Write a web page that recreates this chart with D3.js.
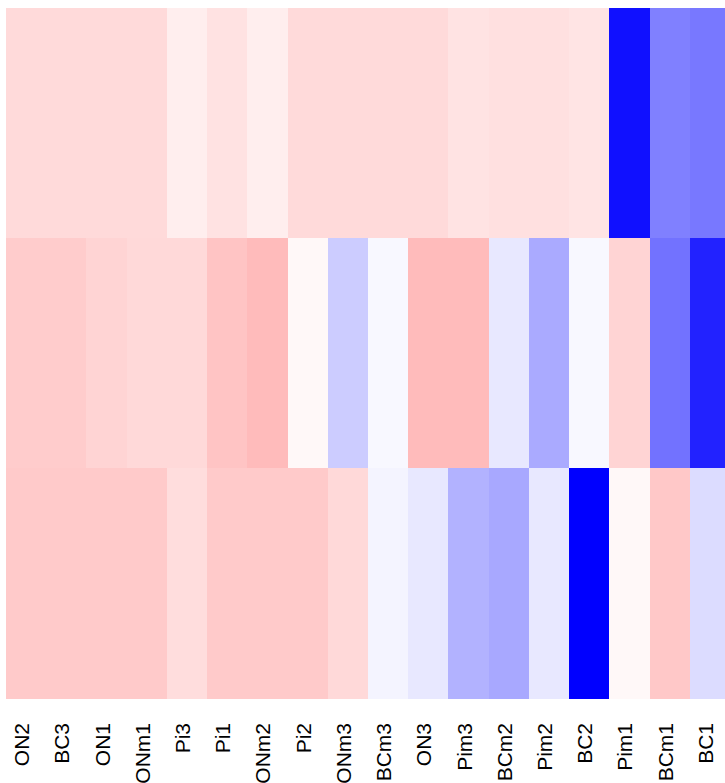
<!DOCTYPE html>
<html>
<head>
<meta charset="utf-8">
<script src="https://cdn.jsdelivr.net/npm/d3@7"></script>
<style>
  html, body { margin: 0; padding: 0; background: #ffffff; overflow: hidden; }
  svg { display: block; }
</style>
</head>
<body>
<svg id="chart" width="725" height="783"></svg>
<script>
// Column labels, left to right
const columns = ["ON2","BC3","ON1","ONm1","Pi3","Pi1","ONm2","Pi2","ONm3","BCm3","ON3","Pim3","BCm2","Pim2","BC2","Pim1","BCm1","BC1"];
// Row identifiers, top to bottom
const rows = ["r1","r2","r3"];

// Cell values per row (negative = blue, positive = red)
const rowTop    = [0.145, 0.145, 0.145, 0.145, 0.067, 0.114, 0.067, 0.145, 0.145, 0.145, 0.145, 0.11, 0.12, 0.12, 0.106, -0.937, -0.498, -0.53];
const rowMiddle = [0.2, 0.2, 0.169, 0.149, 0.149, 0.231, 0.267, 0.027, -0.2, -0.027, 0.267, 0.267, -0.09, -0.333, -0.027, 0.169, -0.553, -0.867];
const rowBottom = [0.208, 0.208, 0.208, 0.208, 0.133, 0.208, 0.208, 0.208, 0.149, -0.043, -0.09, -0.302, -0.341, -0.09, -1, 0.027, 0.216, -0.137];

const values = [rowTop, rowMiddle, rowBottom];

const svg = d3.select("#chart");
const plot = { left: 6, right: 730, top: 8, bottom: 698 };

const x = d3.scaleBand().domain(columns).range([plot.left, plot.right]).padding(0);
const y = d3.scaleBand().domain(rows).range([plot.top, plot.bottom]).padding(0);
const color = d3.scaleLinear().domain([-1, 0, 1]).range(["#0000ff", "#ffffff", "#ff0000"]).clamp(true);

const cells = [];
rows.forEach((r, i) => columns.forEach((c, j) => cells.push({ row: r, col: c, v: values[i][j] })));

svg.append("g").selectAll("rect")
  .data(cells)
  .join("rect")
  .attr("x", d => x(d.col))
  .attr("y", d => y(d.row))
  .attr("width", x.bandwidth() + 0.5)
  .attr("height", y.bandwidth() + 0.5)
  .attr("fill", d => color(d.v))
  .attr("shape-rendering", "crispEdges");

// Rotated column labels below the grid
svg.append("g").selectAll("text")
  .data(columns)
  .join("text")
  .attr("transform", d => `translate(${x(d) + x.bandwidth() / 2 + 3},723) rotate(-90)`)
  .attr("text-anchor", "end")
  .attr("font-family", "'Liberation Sans', Arial, sans-serif")
  .attr("font-size", 21)
  .attr("fill", "#000")
  .text(d => d);
</script>
</body>
</html>
